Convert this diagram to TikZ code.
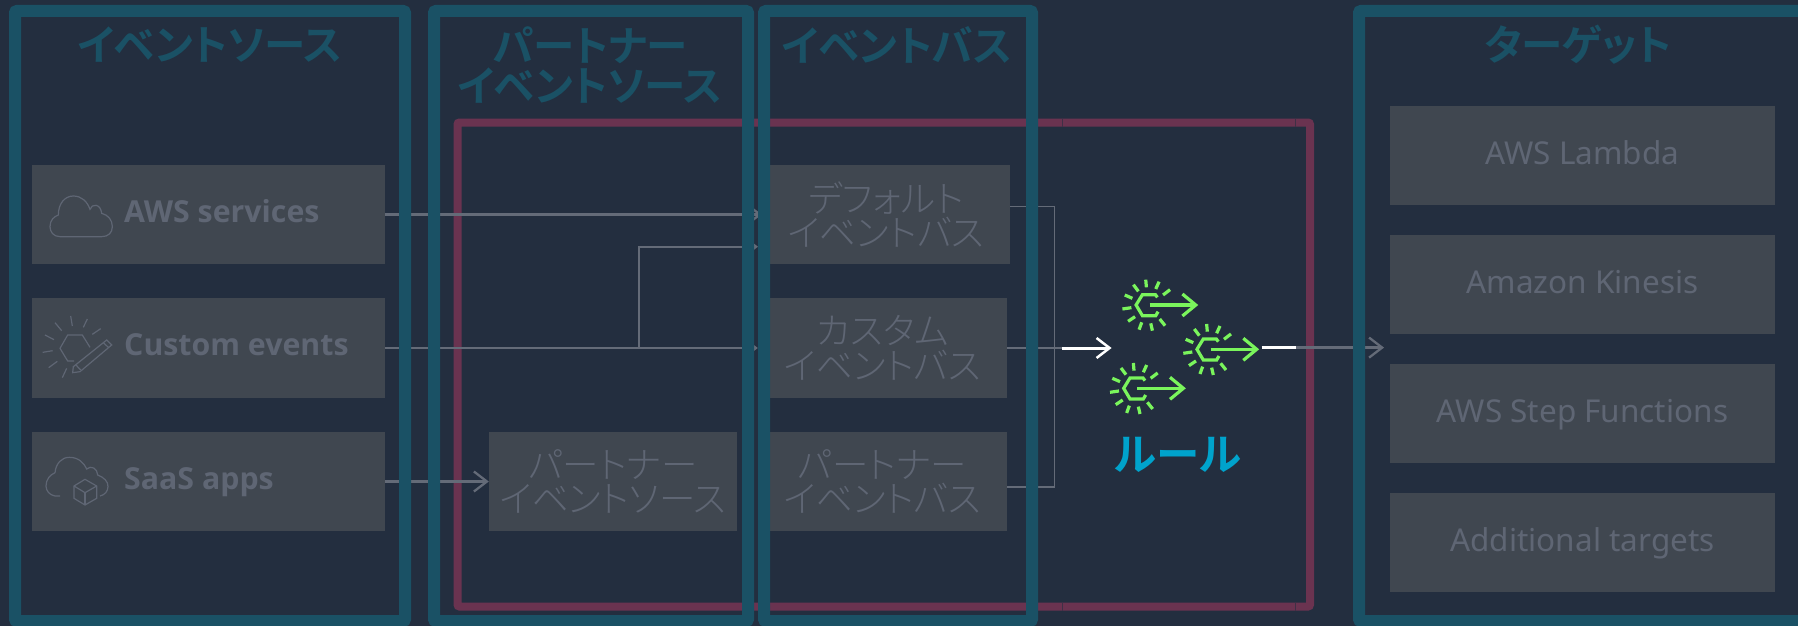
\documentclass[tikz,border=0pt]{standalone}
\usepackage{fontspec}
\usetikzlibrary{arrows.meta,calc}
\setmainfont{Noto Sans}
\newfontfamily\srcfont{Open Sans}
\newfontfamily\kana{Noto Sans CJK JP}[UprightFont={* Light},BoldFont={* Bold},RawFeature={+palt}]
\definecolor{bgc}{HTML}{232E3F}
\definecolor{tealc}{HTML}{1A5165}
\definecolor{maroonc}{HTML}{6A3350}
\definecolor{boxc}{HTML}{404750}
\definecolor{textc}{HTML}{5F6674}
\definecolor{linec}{HTML}{646B78}
\definecolor{greenc}{HTML}{7AF55C}
\definecolor{rulec}{HTML}{00A3CC}
\tikzset{
  x=1pt,y=-1pt,
  boxn/.style={fill=boxc,draw=none,inner sep=0pt,minimum height=99pt,text=textc,align=center},
  srcbox/.style={boxn,minimum width=353pt},
  busbox/.style={boxn,minimum width=249pt,font={\kana\fontsize{36.5}{34.5}\selectfont}},
  tgtbox/.style={boxn,minimum width=385pt,text height=24pt,text depth=7pt,font={\fontsize{31.5}{34}\selectfont}},
  srclabel/.style={anchor=base west,inner sep=0pt,text=textc,font={\srcfont\bfseries\fontsize{30.3}{32}\selectfont}},
  frametitle/.style={text=tealc,inner sep=0pt,align=center,font={\kana\bfseries\fontsize{41.5}{40.5}\selectfont}},
  frameline/.style={draw=tealc,line width=12pt,rounded corners=2pt},
  conn/.style={draw=linec,line width=2.3pt},
  thinconn/.style={draw=linec,line width=1.6pt},
  hotconn/.style={draw=white,line width=3pt},
  barb/.style={-{Straight Barb[length=13pt,width=20pt,line width=2.3pt]}},
  iconline/.style={draw=textc,line width=1.2pt},
  ruleicon/.pic={
    \begin{scope}[draw=greenc,line width=3.2pt]
      \draw (33,-23) -- (27,-31) -- (-12,-31) -- (-31,0) -- (-12,32) -- (28,32) -- (35,20);
      \draw (10,0) -- (146,0);
      \draw (108,-33) -- (148,0) -- (108,33);
      \foreach \a/\b/\c/\d in {-2/-76/0/-53,38/-70/28/-48,71/-46/50/-30,-39/-61/-24/-41,-65/-30/-42/-20,-72/12/-45/8,-55/49/-34/35,-22/74/-14/52,18/77/13/55,56/62/40/42}
        \draw (\a,\b) -- (\c,\d);
    \end{scope}
  }
}
\begin{document}
\begin{tikzpicture}
\useasboundingbox (0,0) rectangle (1798,626);
\fill[bgc] (0,0) rectangle (1798,626);
% maroon frame
\draw[draw=maroonc,line width=8pt,rounded corners=2pt] (457.5,122.5) rectangle (1310,606.5);
\foreach \tx in {1062,1295.5}{
  \draw[draw=bgc!60!maroonc,line width=1pt] (\tx,118.5) -- (\tx,126.5);
  \draw[draw=bgc!60!maroonc,line width=1pt] (\tx,602.5) -- (\tx,610.5);
}
% boxes
\node[srcbox] (src1) at (208.5,214.5) {};
\node[srcbox,minimum height=100pt] (src2) at (208.5,348) {};
\node[srcbox] (src3) at (208.5,481.5) {};
\node[busbox,minimum width=248pt] (psrc) at (613,481.5) {パートナー\\イベントソース};
\node[busbox,minimum width=248pt] (bus1) at (886,214.5) {デフォルト\\イベントバス};
\node[busbox,minimum height=100pt] (bus2) at (882.5,348) {カスタム\\イベントバス};
\node[busbox] (bus3) at (882.5,481.5) {パートナー\\イベントバス};
\node[tgtbox] (t1) at (1582.5,155.5) {AWS Lambda};
\node[tgtbox] (t2) at (1582.5,284.5) {Amazon Kinesis};
\node[tgtbox] (t3) at (1582.5,413.5) {AWS Step Functions};
\node[tgtbox] (t4) at (1582.5,542.5) {Additional targets};
\node[srclabel] (l1) at (124,222.3) {AWS services};
\node[srclabel] (l2) at (124,355) {Custom events};
\node[srclabel] (l3) at (124,489) {SaaS apps};
% source icons
\begin{scope}[shift={(30,170)},scale=1/3]
  \draw[iconline] (90,200) .. controls (70,200) and (60,185) .. (60,170) .. controls (60,150) and (72,140) .. (85,135) .. controls (85,100) and (105,78) .. (130,78) .. controls (155,78) and (172,95) .. (180,118) .. controls (185,100) and (212,100) .. (215,130) .. controls (235,135) and (247,150) .. (247,170) .. controls (247,188) and (235,200) .. (215,200) -- cycle;
  \foreach \a/\b/\c/\d in {75/458/95/482,122/438/127/468,172/447/160/472,212/476/187/493,45/495/72/509,38/547/68/542,56/593/82/574,97/623/110/595}
    \draw[iconline] (\a,\b) -- (\c,\d);
  \draw[iconline] (180,532) -- (157,495) -- (113,495) -- (90,535) -- (113,573) -- (132,573);
  \draw[iconline] (130,590) -- (230,510) -- (245,525) -- (150,605) -- (128,608) -- cycle;
  \draw[iconline] (220,518) -- (236,533);
  \draw[iconline] (137,584) -- (152,600);
  \draw[iconline] (90,978) -- (75,978) .. controls (58,975) and (48,962) .. (48,948) .. controls (48,928) and (60,915) .. (75,908) .. controls (78,880) and (95,862) .. (118,862) .. controls (145,862) and (162,878) .. (170,897) .. controls (182,885) and (203,895) .. (203,915) .. controls (222,922) and (235,935) .. (234,950) .. controls (233,965) and (225,974) .. (210,978);
  \draw[iconline] (165,928) -- (200,948) -- (200,985) -- (165,1005) -- (132,985) -- (132,948) -- cycle;
  \draw[iconline] (132,948) -- (165,968) -- (200,948);
  \draw[iconline] (165,968) -- (165,1005);
\end{scope}
% connectors
\coordinate (t1in) at (758,246.7);
\coordinate (jn) at (639,348);
\draw[conn,barb] (src1.east) -- (bus1.west);
\draw[conn,barb] (src2.east) -- (bus2.west);
\draw[conn,barb] (jn) |- (t1in);
\draw[conn,barb] (src3.east) -- (psrc.west);
\coordinate (brkT) at (1054.4,206.4);
\coordinate (brkB) at (1054.4,487);
\draw[thinconn] (bus1.east |- brkT) -- (brkT) -- (brkB) -- (bus3.east |- brkB);
\coordinate (hotA) at (1062,348);
\coordinate (hotB) at (1111.6,348);
\coordinate (hotC) at (1261.5,347.6);
\coordinate (hotD) at (1295.5,347.6);
\coordinate (tin) at (1384,347.6);
\draw[conn] (bus2.east) -- (hotA);
\draw[hotconn,-{Straight Barb[length=13pt,width=20pt,line width=2.5pt]}] (hotA) -- (hotB);
\draw[conn,barb] (hotD) -- (tin);
\draw[hotconn] (hotC) -- (hotD);
% rule icons
\pic[scale=1/3] at (1146.4,305) {ruleicon};
\pic[scale=1/3] at (1207.3,349.3) {ruleicon};
\pic[scale=1/3] at (1134,388.3) {ruleicon};
\node[inner sep=0pt,text=rulec,font={\kana\bfseries\fontsize{43.5}{46}\selectfont}] (rl) at (1178,455) {ルール};
% teal frames
\draw[frameline] (15,11) rectangle (405,621);
\draw[frameline] (434,11) rectangle (748,621);
\draw[frameline] (764,11) rectangle (1032,621);
\draw[frameline] (1359,11) rectangle (1810,621);
\node[frametitle] (h1) at (210,45) {イベントソース};
\node[frametitle] (h2) at (590,65) {パートナー\\イベントソース};
\node[frametitle] (h3) at (897,45) {イベントバス};
\node[frametitle] (h4) at (1578,45) {ターゲット};
\end{tikzpicture}
\end{document}
